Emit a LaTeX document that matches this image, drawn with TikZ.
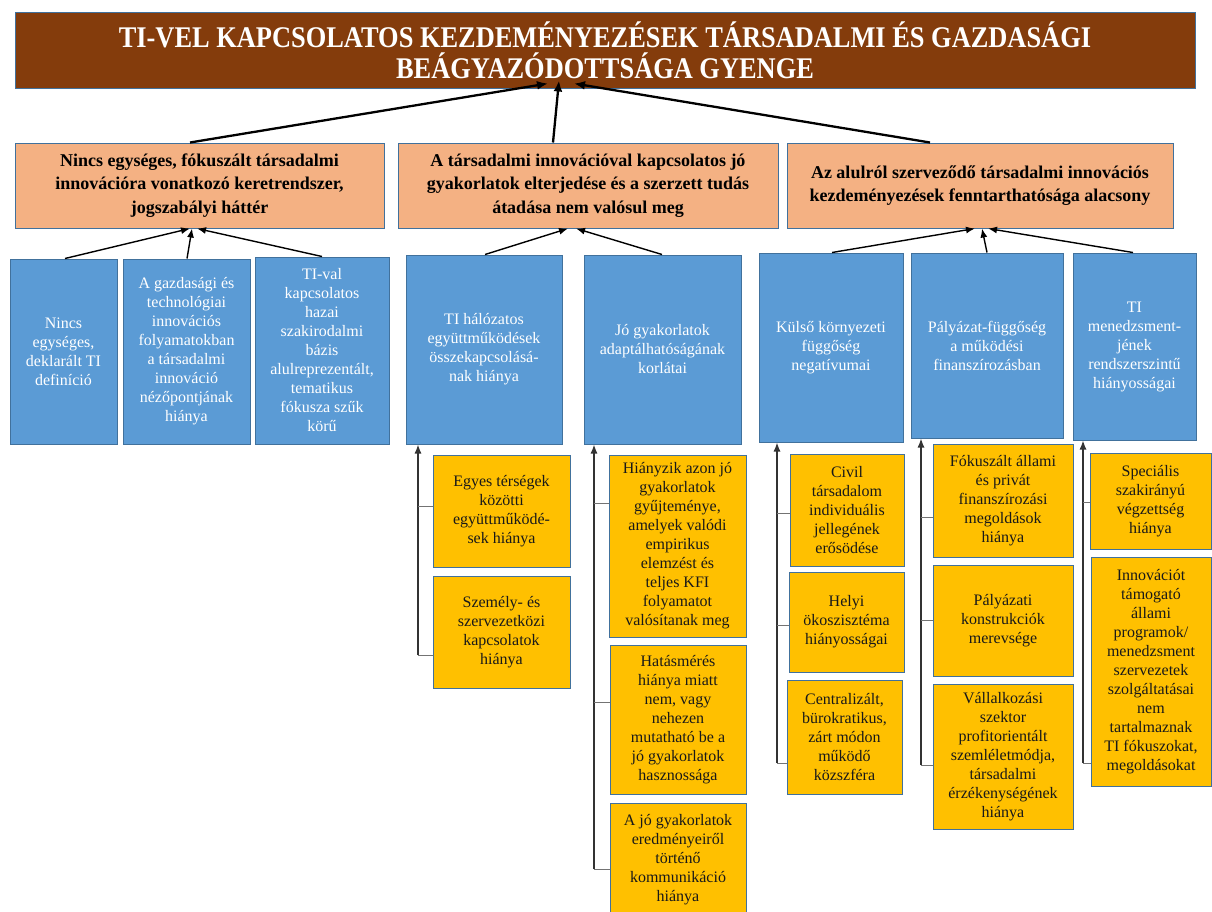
\documentclass[tikz,border=0pt]{standalone}
\usepackage{fontspec}
\setmainfont{Liberation Serif}
\newfontfamily\titlefont{Liberation Serif}[FakeStretch=0.88]
\usetikzlibrary{arrows.meta,calc}
\definecolor{brownT}{HTML}{843C0C}
\definecolor{orangeB}{HTML}{F4B183}
\definecolor{blueB}{HTML}{5B9BD5}
\definecolor{yellowB}{HTML}{FFC000}
\definecolor{bordB}{HTML}{41719C}
\tikzset{
  basebox/.style={draw=bordB, line width=1, inner sep=1, align=center},
  titlebox/.style={basebox, fill=brownT, text=white, font=\titlefont\fontsize{30}{31}\selectfont\bfseries},
  orangebox/.style={basebox, fill=orangeB, text=black, font=\fontsize{18}{23.5}\selectfont\bfseries},
  bluebox/.style={basebox, fill=blueB, text=white, font=\fontsize{16}{19}\selectfont},
  yellowbox/.style={basebox, fill=yellowB, text=black!90, font=\fontsize{16}{19}\selectfont},
  toparrow/.style={line width=2.3, draw=black, -{Latex[length=11,width=9]}},
  midarrow/.style={line width=1.4, draw=black, -{Latex[length=9,width=7]}},
  vline/.style={line width=1.3, draw=black!80, -{Latex[length=9,width=7]}},
  hb/.style={line width=0.9, draw=black!55},
}
\begin{document}
\begin{tikzpicture}[x=1pt,y=-1pt]
\clip (0,0) rectangle (1212,911);
\fill[white] (0,0) rectangle (1212,911);
% title
\node[titlebox, minimum width=1180, minimum height=76] (title) at (605,50)
 {TI-VEL KAPCSOLATOS KEZDEMÉNYEZÉSEK TÁRSADALMI ÉS GAZDASÁGI\\BEÁGYAZÓDOTTSÁGA GYENGE};
% orange
\node[orangebox, minimum width=369, minimum height=85] (o1) at (199.5,185.5)
 {Nincs egységes, fókuszált társadalmi\\innovációra vonatkozó keretrendszer,\\jogszabályi háttér};
\node[orangebox, minimum width=380, minimum height=85] (o2) at (588,185.5)
 {A társadalmi innovációval kapcsolatos jó\\gyakorlatok elterjedése és a szerzett tudás\\átadása nem valósul meg};
\node[orangebox, minimum width=386, minimum height=85] (o3) at (980,185.5)
 {Az alulról szerveződő társadalmi innovációs\\kezdeményezések fenntarthatósága alacsony};
% blue
\node[bluebox, minimum width=107, minimum height=185] (b1) at (63.5,351.5)
 {Nincs\\egységes,\\deklarált TI\\definíció};
\node[bluebox, minimum width=127, minimum height=185] (b2) at (186.5,351.5)
 {A gazdasági és\\technológiai\\innovációs\\folyamatokban\\a társadalmi\\innováció\\nézőpontjának\\hiánya};
\node[bluebox, minimum width=134, minimum height=187] (b3) at (322,350.5)
 {TI-val\\kapcsolatos\\hazai\\szakirodalmi\\bázis\\alulreprezentált,\\tematikus\\fókusza szűk\\körű};
\node[bluebox, minimum width=156, minimum height=189] (b4) at (484,349.5)
 {TI hálózatos\\együttműködések\\összekapcsolásá-\\nak hiánya};
\node[bluebox, minimum width=157, minimum height=189] (b5) at (662.5,349.5)
 {Jó gyakorlatok\\adaptálhatóságának\\korlátai};
\node[bluebox, minimum width=144, minimum height=189] (b6) at (831,347.5)
 {Külső környezeti\\függőség\\negatívumai};
\node[bluebox, minimum width=152, minimum height=185] (b7) at (987,345.5)
 {Pályázat-függőség\\a működési\\finanszírozásban};
\node[bluebox, minimum width=123, minimum height=187] (b8) at (1134.5,346.5)
 {TI\\menedzsment-\\jének\\rendszerszintű\\hiányosságai};
% yellow
\node[yellowbox, minimum width=137, minimum height=112] (y1) at (501.5,511)
 {Egyes térségek\\közötti\\együttműködé-\\sek hiánya};
\node[yellowbox, minimum width=137, minimum height=112] (y2) at (501.5,632)
 {Személy- és\\szervezetközi\\kapcsolatok\\hiánya};
\node[yellowbox, minimum width=137, minimum height=182] (y3) at (677.5,546)
 {Hiányzik azon jó\\gyakorlatok\\gyűjteménye,\\amelyek valódi\\empirikus\\elemzést és\\teljes KFI\\folyamatot\\valósítanak meg};
\node[yellowbox, minimum width=136, minimum height=149] (y4) at (678,719.5)
 {Hatásmérés\\hiánya miatt\\nem, vagy\\nehezen\\mutatható be a\\jó gyakorlatok\\hasznossága};
\node[yellowbox, minimum width=136, minimum height=114] (y5) at (678,860)
 {A jó gyakorlatok\\eredményeiről\\történő\\kommunikáció\\hiánya};
\node[yellowbox, minimum width=114, minimum height=112] (y6) at (847,510)
 {Civil\\társadalom\\individuális\\jellegének\\erősödése};
\node[yellowbox, minimum width=115, minimum height=100] (y7) at (846.5,622)
 {Helyi\\ökoszisztéma\\hiányosságai};
\node[yellowbox, minimum width=115, minimum height=114] (y8) at (844.5,737)
 {Centralizált,\\bürokratikus,\\zárt módon\\működő\\közszféra};
\node[yellowbox, minimum width=140, minimum height=113] (y9) at (1003,500.5)
 {Fókuszált állami\\és privát\\finanszírozási\\megoldások\\hiánya};
\node[yellowbox, minimum width=140, minimum height=111] (y10) at (1003,620.5)
 {Pályázati\\konstrukciók\\merevsége};
\node[yellowbox, minimum width=140, minimum height=145] (y11) at (1003,756.5)
 {Vállalkozási\\szektor\\profitorientált\\szemléletmódja,\\társadalmi\\érzékenységének\\hiánya};
\node[yellowbox, minimum width=121, minimum height=96] (y12) at (1150.5,501)
 {Speciális\\szakirányú\\végzettség\\hiánya};
\node[yellowbox, minimum width=120, minimum height=229] (y13) at (1151,671.5)
 {Innovációt\\támogató\\állami\\programok/\\menedzsment\\szervezetek\\szolgáltatásai\\nem\\tartalmaznak\\TI fókuszokat,\\megoldásokat};
% top arrows
\draw[toparrow] ([xshift=-9.5]o1.north) -- ([xshift=-57,yshift=5]title.south);
\draw[toparrow] ([xshift=-35]o2.north) -- ([xshift=-46,yshift=8]title.south);
\draw[toparrow] ([xshift=-50]o3.north) -- ([xshift=-31,yshift=5]title.south);
% mid arrows
\draw[midarrow] ([xshift=1.5]b1.north) -- ([xshift=-9.5]o1.south);
\draw[midarrow] ([xshift=0.5]b2.north) -- ([xshift=-7.5]o1.south);
\draw[midarrow] (b3.north) -- ([xshift=-2.5]o1.south);
\draw[midarrow] ([xshift=1]b4.north) -- ([xshift=-20]o2.south);
\draw[midarrow] ([xshift=-0.5]b5.north) -- ([xshift=-12]o2.south);
\draw[midarrow] ([xshift=1]b6.north) -- ([xshift=-5]o3.south);
\draw[midarrow] (b7.north) -- ([xshift=2]o3.south);
\draw[midarrow] ([xshift=-1.5]b8.north) -- ([xshift=8]o3.south);
% vertical branch lines
\coordinate (v4) at (418,655);
\coordinate (v5) at (594,869);
\coordinate (v6) at (777,763);
\coordinate (v7) at (921,765);
\coordinate (v8) at (1083,763);
\draw[vline] (v4) -- (v4 |- b4.south);
\draw[vline] (v5) -- (v5 |- b5.south);
\draw[vline] (v6) -- (v6 |- b6.south);
\draw[vline] (v7) -- (v7 |- b7.south);
\draw[vline] (v8) -- (v8 |- b8.south);
% horizontal branches
\draw[hb] (v4 |- 0,506) -- (y1.west |- 0,506);
\draw[hb] (v4) -- (y2.west |- v4);
\draw[hb] (v5 |- 0,503) -- (y3.west |- 0,503);
\draw[hb] (v5 |- 0,702) -- (y4.west |- 0,702);
\draw[hb] (v5) -- (y5.west |- v5);
\draw[hb] (v6 |- 0,513) -- (y6.west |- 0,513);
\draw[hb] (v6 |- 0,625) -- (y7.west |- 0,625);
\draw[hb] (v6) -- (y8.west |- v6);
\draw[hb] (v7 |- 0,517) -- (y9.west |- 0,517);
\draw[hb] (v7 |- 0,620) -- (y10.west |- 0,620);
\draw[hb] (v7) -- (y11.west |- v7);
\draw[hb] (v8 |- 0,502) -- (y12.west |- 0,502);
\draw[hb] (v8) -- (y13.west |- v8);
\end{tikzpicture}
\end{document}
